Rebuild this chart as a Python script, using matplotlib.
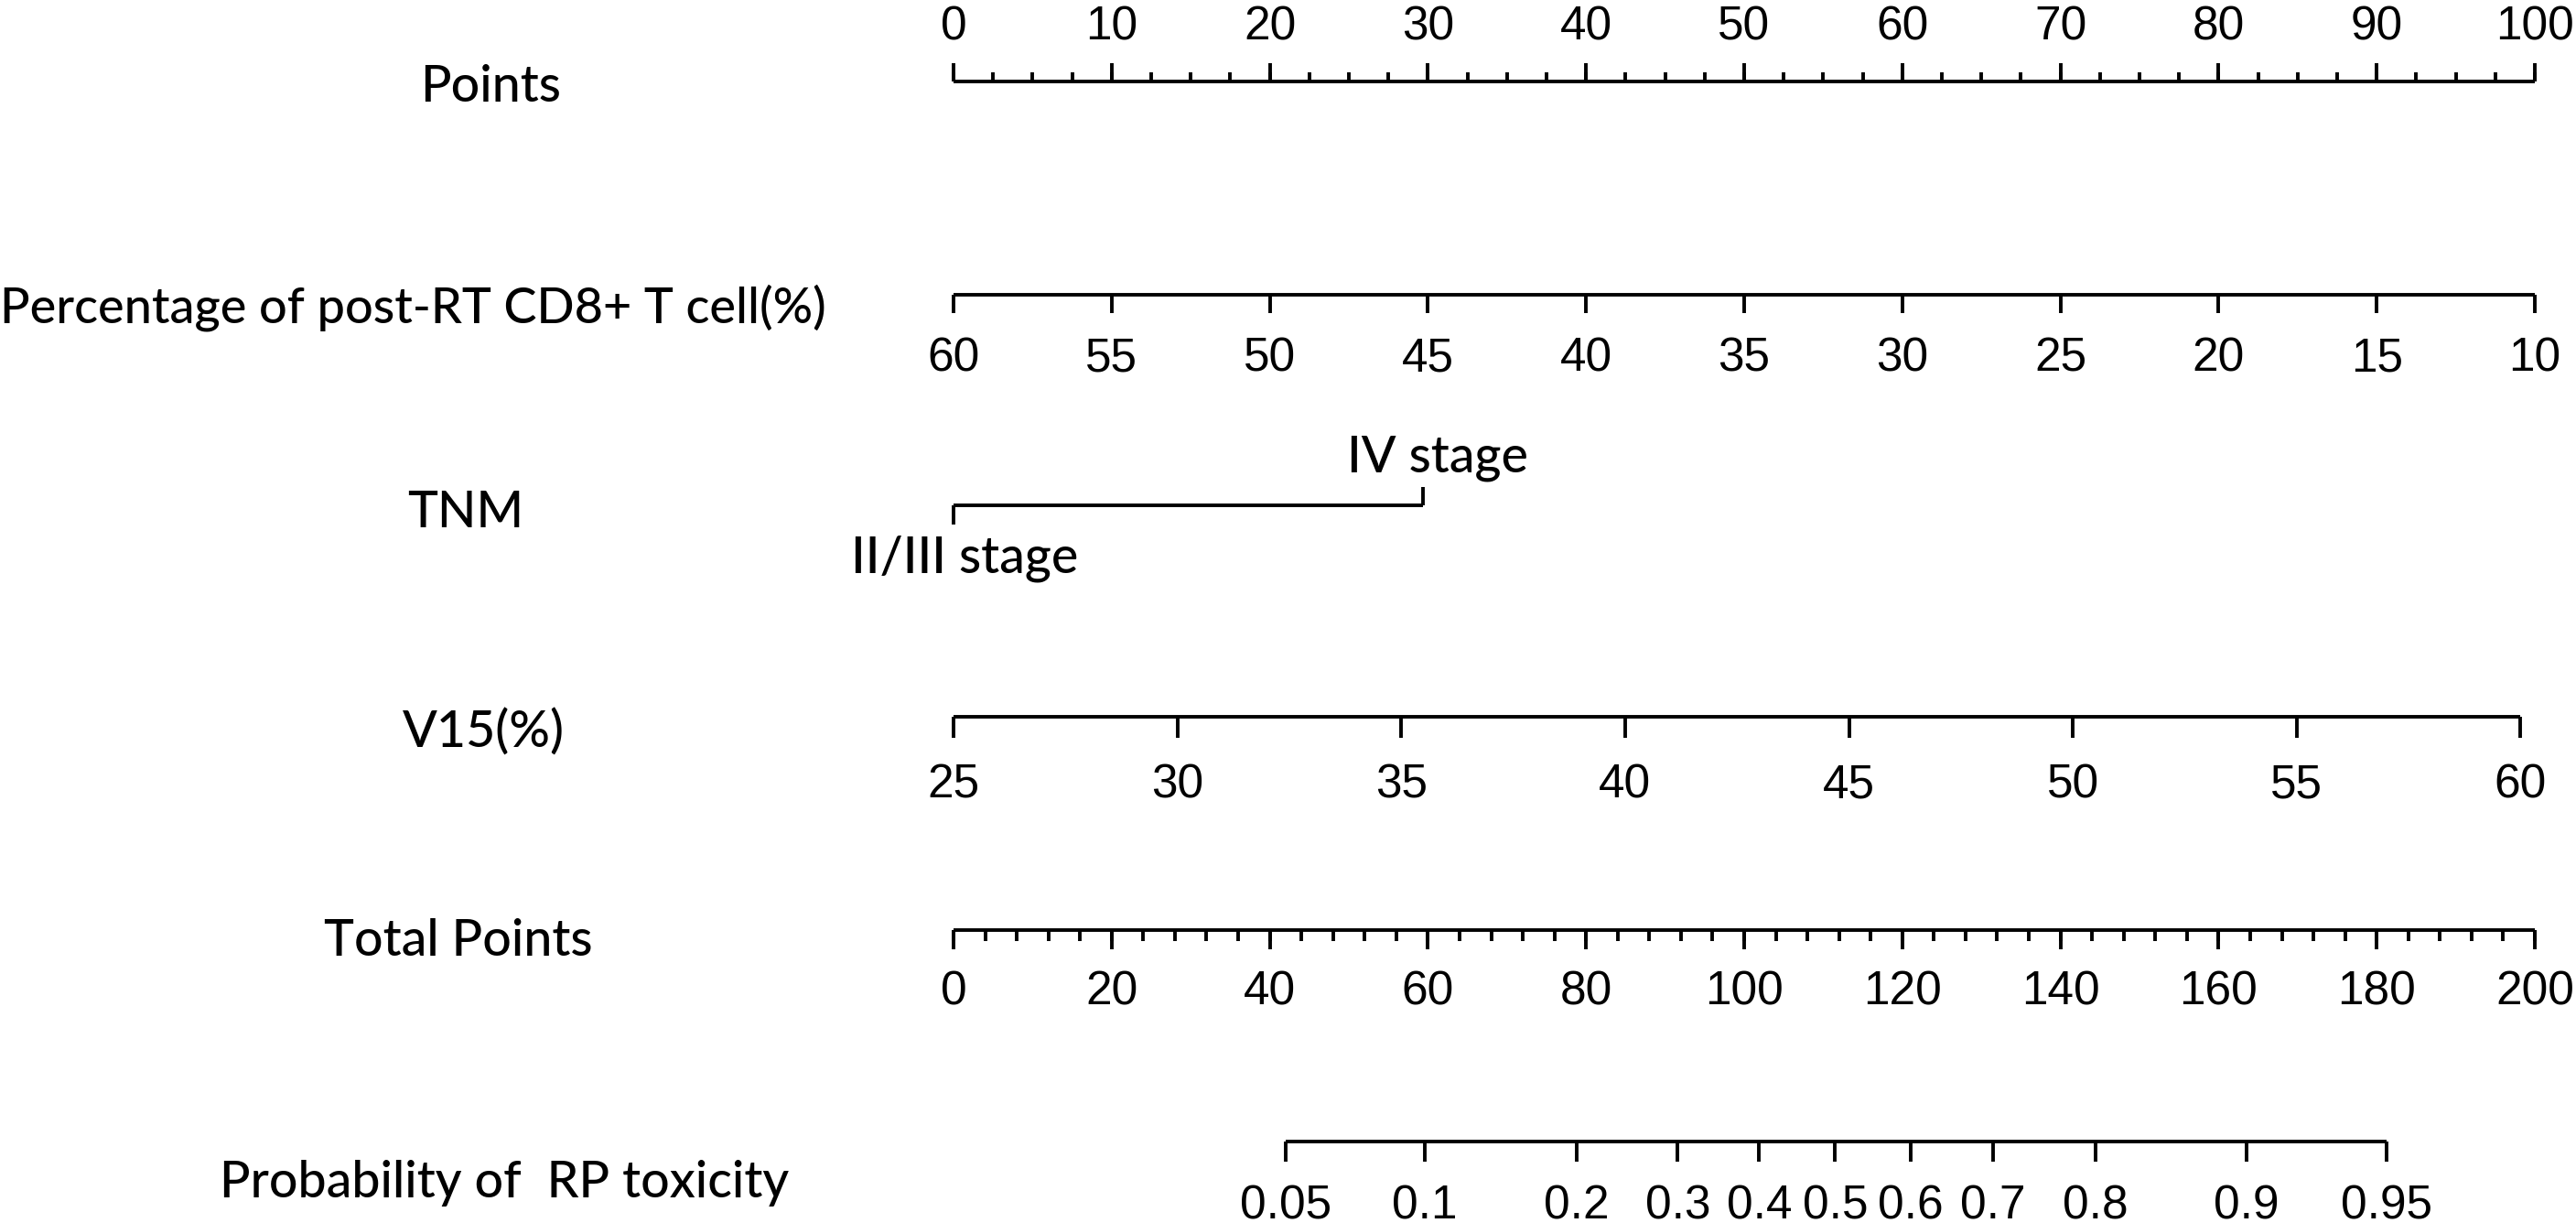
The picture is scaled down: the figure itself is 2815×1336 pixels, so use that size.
import matplotlib
matplotlib.use("Agg")
import matplotlib.pyplot as plt
import numpy as np

# nomogram scales
points_ticks = [0, 10, 20, 30, 40, 50, 60, 70, 80, 90, 100]

cd8_ticks = [60, 55, 50, 45, 40, 35, 30, 25, 20, 15, 10]
cd8_ends = [60, 10]
cd8_points = [0, 100]

tnm_levels = ["II/III stage", "IV stage"]
tnm_points = [0, 29.7]

v15_ticks = [25, 30, 35, 40, 45, 50, 55, 60]
v15_ends = [25, 60]
v15_points = [0, 99.1]

total_ticks = [0, 20, 40, 60, 80, 100, 120, 140, 160, 180, 200]
total_ends = [0, 200]

prob_ticks = [0.05, 0.1, 0.2, 0.3, 0.4, 0.5, 0.6, 0.7, 0.8, 0.9, 0.95]
prob_labels = ["0.05", "0.1", "0.2", "0.3", "0.4", "0.5", "0.6", "0.7", "0.8", "0.9", "0.95"]
prob_total = [42.0, 59.6, 78.8, 91.6, 101.9, 111.5, 121.1, 131.5, 144.4, 163.5, 181.2]

row_names = ["Points", "Percentage of post-RT CD8+ T cell(%)", "TNM", "V15(%)",
             "Total Points", "Probability of  RP toxicity"]

W, H = 2815, 1336
X0, PX = 1042, 17.28   # pixel of 0 points, pixels per point

LW = 2.8
LABEL_FONT = ["Lato", "DejaVu Sans"]
NUM_FONT = ["Liberation Sans", "DejaVu Sans"]
LABEL_FS = 40
LABEL_W = "medium"
NUM_FS = 37

fig = plt.figure(figsize=(W / 100, H / 100), dpi=100)
ax = fig.add_axes([0, 0, 1, 1])
ax.set_xlim(-X0 / PX, (W - X0) / PX)
ax.set_ylim(H, 0)
ax.axis("off")


def scale_line(ax, xs, y, tick_len, labels, label_y, minor=None, minor_len=None):
    ax.plot([xs[0], xs[-1]], [y, y], color="black", lw=LW, solid_capstyle="butt")
    ax.vlines(xs, y, y + tick_len, color="black", lw=LW)
    if minor is not None:
        ax.vlines(minor, y, y + minor_len, color="black", lw=LW)
    for x, lab in zip(xs, labels):
        ax.text(x, label_y, lab, ha="center", va="baseline", fontsize=NUM_FS,
                family=NUM_FONT)


# Points
pts = np.array(points_ticks, dtype=float)
scale_line(ax, pts, 89, -20, [str(v) for v in points_ticks], 43,
           minor=np.arange(0, 100.1, 2.5), minor_len=-10)

# CD8+ T cell percentage
cd8_x = np.interp(cd8_ticks, cd8_ends[::-1], cd8_points[::-1])
scale_line(ax, cd8_x, 322, 20, [str(v) for v in cd8_ticks], 406)

# TNM
ax.plot(tnm_points, [552, 552], color="black", lw=LW, solid_capstyle="butt")
ax.vlines(tnm_points[0], 552, 573, color="black", lw=LW)
ax.vlines(tnm_points[1], 552, 532, color="black", lw=LW)
ax.text(tnm_points[0] + 0.7, 625, tnm_levels[0], ha="center", va="baseline",
        fontsize=LABEL_FS, family=LABEL_FONT, fontweight=LABEL_W)
ax.text(tnm_points[1] + 0.9, 515, tnm_levels[1], ha="center", va="baseline",
        fontsize=LABEL_FS, family=LABEL_FONT, fontweight=LABEL_W)

# V15
v15_x = np.interp(v15_ticks, v15_ends, v15_points)
scale_line(ax, v15_x, 783, 23, [str(v) for v in v15_ticks], 872)

# Total points (0-200 drawn on the 0-100 points scale)
tot_x = np.interp(total_ticks, total_ends, [0, 100])
scale_line(ax, tot_x, 1016, 21, [str(v) for v in total_ticks], 1098,
           minor=np.interp(np.arange(0, 200.1, 4), total_ends, [0, 100]), minor_len=12)

# Probability
prob_x = np.interp(prob_total, total_ends, [0, 100])
scale_line(ax, prob_x, 1247, 22, prob_labels, 1332)

# row labels
label_pos = [(536, 111), (451, 353), (509, 576), (528, 817), (501, 1044), (551, 1308)]
for name, (px, py) in zip(row_names, label_pos):
    if name.startswith("Percentage"):
        ax.text(-X0 / PX, py, name, ha="left", va="baseline",
                fontsize=39, family=LABEL_FONT, fontweight=LABEL_W)
        continue
    ax.text((px - X0) / PX, py, name, ha="center", va="baseline",
            fontsize=LABEL_FS, family=LABEL_FONT, fontweight=LABEL_W)

fig.savefig("out.png", dpi=100, facecolor="white")
